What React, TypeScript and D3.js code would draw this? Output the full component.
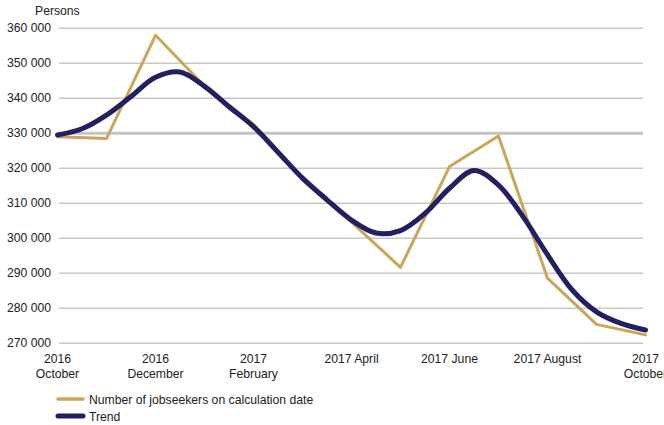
import React from "react";
import * as d3 from "d3";

// monthly observations, Oct 2016 .. Oct 2017
const months = ["2016-10", "2016-11", "2016-12", "2017-01", "2017-02", "2017-03", "2017-04",
  "2017-05", "2017-06", "2017-07", "2017-08", "2017-09", "2017-10"];
const jobseekers = [329000, 328500, 358000, 343500, 332500, 316800, 304600,
  291700, 320500, 329200, 288600, 275400, 272400];

// trend, read at half-month steps (month index 0 .. 12)
const trendAt = [0, 0.5, 1, 1.5, 2, 2.5, 3, 3.5, 4, 4.5, 5, 5.5, 6, 6.5, 7, 7.5, 8, 8.5, 9, 9.5, 10, 10.5, 11, 11.5, 12];
const trend = [329500, 331300, 335200, 340500, 346000, 347500, 343400, 337600, 331900, 324600, 317200, 311000, 305200,
  301500, 302200, 307100, 314300, 319400, 315200, 306200, 295300, 285300, 279000, 275700, 273800];

const yTicks = [270000, 280000, 290000, 300000, 310000, 320000, 330000, 340000, 350000, 360000];
const xLabels = [
  { i: 0, lines: ["2016", "October"] },
  { i: 2, lines: ["2016", "December"] },
  { i: 4, lines: ["2017", "February"] },
  { i: 6, lines: ["2017 April"] },
  { i: 8, lines: ["2017 June"] },
  { i: 10, lines: ["2017 August"] },
  { i: 12, lines: ["2017", "October"] },
];
const seriesNames = ["Number of jobseekers on calculation date", "Trend"];

const W = 664, H = 425;
const GOLD = "#CCA55A";
const NAVY = "#222060";
const FONT = "'Liberation Sans', Arial, sans-serif";
const FS = 12.2;

export default function App() {
  const x = d3.scaleLinear().domain([0, months.length - 1]).range([57.5, 645.5]);
  const y = d3.scaleLinear().domain([270000, 360000]).range([343.3, 28.3]);

  const goldLine = d3.line<number>().x((_, i) => x(i)).y(d => y(d));
  const trendLine = d3.line<number>().x((_, i) => x(trendAt[i])).y(d => y(d)).curve(d3.curveCatmullRom.alpha(0.5));

  return (
    <svg width={W} height={H} style={{ position: "absolute", left: 0, top: 0, fontFamily: FONT }}>
      <rect width={W} height={H} fill="#fff" />
      <text x={35} y={15} fontSize={FS} fill="#222">Persons</text>
      {yTicks.map(t => (
        <g key={t}>
          <line x1={59} x2={643} y1={y(t)} y2={y(t)} stroke={t === 330000 ? "#C4C4C4" : "#C8C8C8"} strokeWidth={t === 330000 ? 3 : 1.5} />
          <text x={51} y={y(t) + 4} fontSize={FS} textAnchor="end" fill="#222">{d3.format(",")(t).replace(",", " ")}</text>
        </g>
      ))}
      {xLabels.map(l => (
        <text key={l.i} x={x(l.i)} y={363} fontSize={FS} textAnchor="middle" fill="#222">
          {l.lines.map((s, k) => (
            <tspan key={k} x={x(l.i)} dy={k === 0 ? 0 : 15}>{s}</tspan>
          ))}
        </text>
      ))}
      <path d={goldLine(jobseekers) || ""} fill="none" stroke={GOLD} strokeWidth={3} strokeLinejoin="round" strokeLinecap="round" />
      <path d={trendLine(trend) || ""} fill="none" stroke={NAVY} strokeWidth={5} strokeLinejoin="round" strokeLinecap="round" />
      <g fontSize={FS} fill="#222">
        <line x1={58} x2={83} y1={399} y2={399} stroke={GOLD} strokeWidth={3.5} strokeLinecap="round" />
        <text x={89} y={403.5}>{seriesNames[0]}</text>
        <line x1={58} x2={83} y1={416} y2={416} stroke={NAVY} strokeWidth={5} strokeLinecap="round" />
        <text x={89} y={420.5}>{seriesNames[1]}</text>
      </g>
    </svg>
  );
}
